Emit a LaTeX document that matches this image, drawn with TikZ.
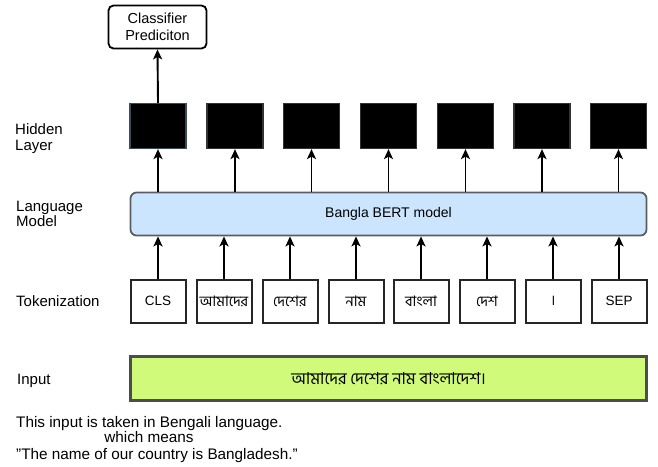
\documentclass[tikz,border=0pt]{standalone}
\usepackage{fontspec}
\setmainfont{Liberation Sans}
\newfontfamily\bn[Script=Bengali]{Hind Siliguri}
\usetikzlibrary{arrows.meta}
\definecolor{bertfill}{HTML}{CCE5FF}
\definecolor{bertline}{HTML}{5A5D61}
\definecolor{inputfill}{HTML}{D0FB7A}
\definecolor{inputline}{HTML}{4D4D4D}
\definecolor{hidline}{HTML}{3A4A5A}
\tikzset{
  arr/.style={-{Stealth[length=10pt,width=9pt,inset=2.5pt]}, line width=1.9pt},
  lbl/.style={anchor=base west, inner sep=0pt, font=\fontsize{15}{18}\selectfont},
  note/.style={inner sep=0pt, font=\fontsize{15.3}{17}\selectfont},
  hid/.style={draw=black!80, fill=black, line width=1.2pt, minimum width=56pt, minimum height=45pt, inner sep=0pt},
  tok/.style={draw=black!85, fill=white, line width=2pt, minimum width=55pt, minimum height=43pt, inner sep=0pt, font=\fontsize{13.5}{16}\selectfont},
  bntok/.style={tok, font=\bn\fontsize{14.5}{16}\selectfont},
}
\begin{document}
\begin{tikzpicture}[x=1pt,y=-1pt]
\useasboundingbox (0,0) rectangle (658,466);
% classifier
\node[draw=black, line width=1.8pt, rounded corners=5pt, fill=white, minimum width=98pt, minimum height=43pt, align=center, inner sep=0pt, font=\fontsize{14.5}{17}\selectfont] (cls) at (157.5,27) {Classifier\\Prediciton};
% hidden
\node[hid, draw=hidline] (h1) at (158,126) {};
\node[hid] (h2) at (235,126) {};
\node[hid] (h3) at (311.5,126) {};
\node[hid] (h4) at (388.5,126) {};
\node[hid] (h5) at (465.5,126) {};
\node[hid] (h6) at (542,126) {};
\node[hid] (h7) at (618.5,126) {};
% bert
\node[draw=bertline, fill=bertfill, line width=1.8pt, rounded corners=6pt, minimum width=516pt, minimum height=43pt, inner sep=0pt, font=\fontsize{14}{16}\selectfont] (bert) at (388.5,214) {Bangla BERT model};
% tokens
\node[tok] (t1) at (158,301) {CLS};
\node[bntok] (t2) at (224,301) {আমাদের};
\node[bntok] (t3) at (290,301) {দেশের};
\node[bntok] (t4) at (356,301) {নাম};
\node[bntok] (t5) at (421,301) {বাংলা};
\node[bntok] (t6) at (487,301) {দেশ};
\node[bntok] (t7) at (553,301) {।};
\node[tok] (t8) at (619,301) {SEP};
% input
\node[draw=inputline, fill=inputfill, line width=2.2pt, minimum width=516pt, minimum height=44pt, inner sep=0pt, font=\bn\fontsize{16.5}{18}\selectfont] (inp) at (388.5,378.5) {আমাদের দেশের নাম বাংলাদেশ।};
% arrows
\draw[arr] (h1.north) -- (cls.south);
\foreach \i in {1,...,7} {\draw[arr] (bert.north -| h\i) -- (h\i.south);}
\foreach \i in {1,...,8} {\draw[arr] (t\i.north) -- (t\i.north |- bert.south);}
% labels
\node[lbl] (lh1) at (15,134) {Hidden};
\node[lbl] (lh2) at (15,150) {Layer};
\node[lbl] (llm1) at (16,211) {Language};
\node[lbl] (llm2) at (16,226.5) {Model};
\node[lbl] (lt) at (16,306.5) {Tokenization};
\node[lbl] (li) at (17,384) {Input};
% bottom text
\node[note, anchor=base west] (n1) at (16,427.5) {This input is taken in Bengali language.};
\node[note, anchor=base] (n2) at (149,442.7) {which means};
\node[note, anchor=base west] (n3) at (16,459.3) {\symbol{34}The name of our country is Bangladesh.\symbol{34}};
\end{tikzpicture}
\end{document}
